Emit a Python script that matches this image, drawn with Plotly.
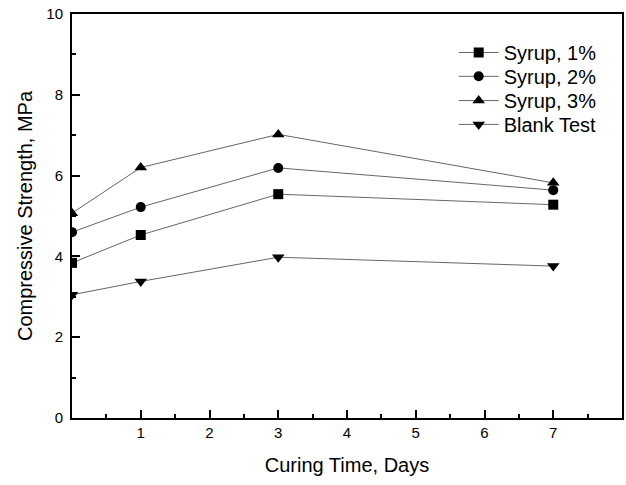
import plotly.graph_objects as go

days = [0, 1, 3, 7]
syrup1 = [3.84, 4.53, 5.54, 5.28]
syrup2 = [4.60, 5.22, 6.19, 5.64]
syrup3 = [5.07, 6.20, 7.02, 5.82]
blank = [3.05, 3.38, 3.98, 3.76]

series = [
    ("Syrup, 1%", syrup1, "square", 10),
    ("Syrup, 2%", syrup2, "circle", 10),
    ("Syrup, 3%", syrup3, "triangle-up", 11),
    ("Blank Test", blank, "triangle-down", 11),
]

font = "Liberation Sans, Arial, sans-serif"
legend_ids = ["legend", "legend2", "legend3", "legend4"]
legend_tops = [0.953, 0.894, 0.834, 0.775]

fig = go.Figure()
for (name, vals, sym, sz), lid in zip(series, legend_ids):
    fig.add_trace(go.Scatter(
        x=days, y=vals, name=name, mode="lines+markers",
        line=dict(color="#666666", width=1),
        marker=dict(symbol=sym, color="black", size=sz, line=dict(width=0)),
        legend=lid,
    ))

legends = {}
for lid, top in zip(legend_ids, legend_tops):
    legends[lid] = dict(x=0.694, y=top, xanchor="left", yanchor="top",
                        bgcolor="rgba(0,0,0,0)", font=dict(size=20, family=font),
                        itemwidth=40)

fig.update_layout(
    width=626, height=485,
    margin=dict(l=72, r=2, t=14, b=67),
    paper_bgcolor="white", plot_bgcolor="white",
    font=dict(family=font, color="black", size=15),
    showlegend=True,
    **legends,
    xaxis=dict(
        range=[0, 8], tickmode="array", tickvals=[1, 2, 3, 4, 5, 6, 7],
        ticks="inside", ticklen=8, tickwidth=2, tickcolor="black",
        minor=dict(tickmode="array", tickvals=[0.5, 1.5, 2.5, 3.5, 4.5, 5.5, 6.5, 7.5],
                   ticks="inside", ticklen=4, tickwidth=2, tickcolor="black"),
        showline=True, linecolor="black", linewidth=2, mirror=True,
        showgrid=False, zeroline=False, ticklabeloverflow="allow",
        tickfont=dict(size=15),
        title=dict(text="Curing Time, Days", font=dict(size=20), standoff=18),
    ),
    yaxis=dict(
        range=[0, 10], tickmode="array", tickvals=[0, 2, 4, 6, 8, 10],
        ticks="inside", ticklen=8, tickwidth=2, tickcolor="black",
        minor=dict(tickmode="array", tickvals=[1, 3, 5, 7, 9],
                   ticks="inside", ticklen=4, tickwidth=2, tickcolor="black"),
        showline=True, linecolor="black", linewidth=2, mirror=True,
        showgrid=False, zeroline=False, ticklabeloverflow="allow",
        tickfont=dict(size=15), ticklabelstandoff=4,
        title=dict(text="Compressive Strength, MPa", font=dict(size=20), standoff=8),
    ),
)

fig.write_html("out.html", config={"displayModeBar": False},
               post_script="document.body.style.margin='0px';")
